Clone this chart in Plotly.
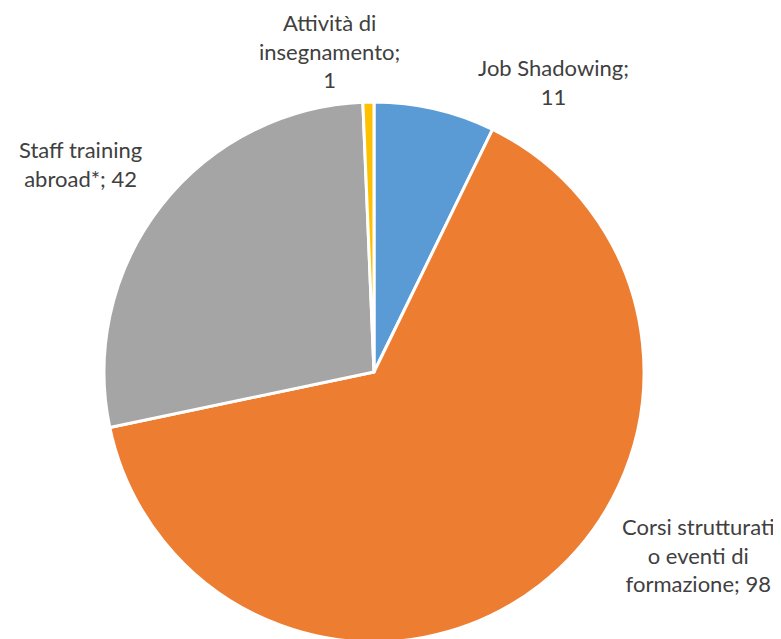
import plotly.graph_objects as go

# slices, clockwise from 12 o'clock
labels = ["Job Shadowing", "Corsi strutturati o eventi di formazione",
          "Staff training abroad*", "Attività di insegnamento"]
values = [11, 98, 42, 1]
colors = ["#5B9BD5", "#ED7D31", "#A5A5A5", "#FFC000"]

# label texts as they are broken in the original
label_text = ["Job Shadowing;<br>11",
              "Corsi strutturati<br>o eventi di<br>formazione; 98",
              "Staff training<br>abroad*; 42",
              "Attività di<br>insegnamento;<br>1"]

W, H = 781, 639
OFF = 8  # page body margin

fig = go.Figure()
fig.add_trace(go.Pie(
    labels=labels, values=values, sort=False, direction="clockwise", rotation=0,
    marker=dict(colors=colors, line=dict(color="white", width=3)),
    textinfo="none", hoverinfo="label+value", showlegend=False,
    domain=dict(x=[(104 - OFF) / W, (644 - OFF) / W], y=[5 / H, 545 / H]),
))

# label centres in screen pixels (x, y from top)
label_pos = [(553, 82), (698, 555), (80, 164), (329, 51)]
for txt, (px, py) in zip(label_text, label_pos):
    fig.add_annotation(x=(px - OFF) / W, y=1 - (py - OFF) / H, xref="paper", yref="paper",
                       text=txt, showarrow=False, xanchor="center", yanchor="middle",
                       align="center", font=dict(size=22, color="#404040", family="Lato"))

fig.update_layout(width=W, height=H, margin=dict(l=0, r=0, t=0, b=0),
                  paper_bgcolor="white", plot_bgcolor="white")
fig.write_html("out.html")
